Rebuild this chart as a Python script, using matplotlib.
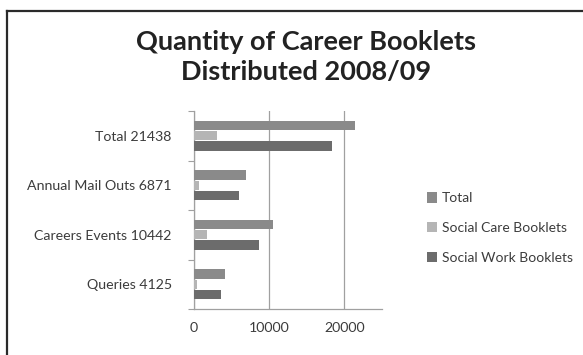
"""Quantity of career booklets distributed, grouped horizontal bars."""
import matplotlib

matplotlib.use("Agg")
import matplotlib.pyplot as plt
import numpy as np
from matplotlib.lines import Line2D

categories = ["Total 21438", "Annual Mail Outs 6871", "Careers Events 10442", "Queries 4125"]
total = [21438, 6871, 10442, 4125]
social_care = [3100, 700, 1750, 450]
social_work = [18300, 6050, 8600, 3650]
series_names = ["Total", "Social Care Booklets", "Social Work Booklets"]
x_ticks = [0, 10000, 20000]

COLORS = {
    "total": "#8a8a8a",
    "care": "#b5b5b5",
    "work": "#6c6c6c",
    "grid": "#a0a0a0",
    "text": "#3c3c3c",
    "frame": "#2a2a2a",
}

plt.rcParams.update({"font.family": ["Lato", "DejaVu Sans"], "font.size": 10.2})

fig = plt.figure(figsize=(5.83, 3.55), dpi=100)
ax = fig.add_axes([194 / 583, 46 / 355, 188 / 583, 198 / 355])

y = np.arange(len(categories))
h = 0.19
off = 0.21
ax.barh(y - off, total, height=h, color=COLORS["total"], label=series_names[0], zorder=3)
ax.barh(y, social_care, height=h, color=COLORS["care"], label=series_names[1], zorder=3)
ax.barh(y + off, social_work, height=h, color=COLORS["work"], label=series_names[2], zorder=3)

ax.set_xlim(0, 25000)
ax.set_ylim(len(categories) - 0.5, -0.5)
ax.set_xticks(x_ticks)
ax.set_xticklabels([str(v) for v in x_ticks])
ax.set_yticks(np.arange(len(categories) + 1) - 0.5)
ax.set_yticklabels([])
ax.set_yticks(y, minor=True)
ax.set_yticklabels(categories, minor=True)
ax.tick_params(axis="y", which="major", length=4, color=COLORS["grid"], direction="out")
ax.tick_params(axis="y", which="minor", length=0, pad=16, colors=COLORS["text"])
ax.tick_params(axis="x", length=0, pad=9, colors=COLORS["text"])

ax.grid(axis="x", color=COLORS["grid"], linewidth=0.9, zorder=0)
for side in ["top", "right"]:
    ax.spines[side].set_visible(False)
for side in ["left", "bottom"]:
    ax.spines[side].set_color(COLORS["grid"])
    ax.spines[side].set_linewidth(0.9)

fig.text(306 / 583, 1 - 57 / 355, "Quantity of Career Booklets\nDistributed 2008/09",
         ha="center", va="center", fontsize=19.5, fontweight="bold", color="#222222",
         linespacing=1.28)

fig.legend(loc="center left", bbox_to_anchor=(427 / 583, 1 - 228 / 355), frameon=False,
           borderpad=0, borderaxespad=0,
           handlelength=0.75, handleheight=0.75, handletextpad=0.3, labelspacing=1.27,
           labelcolor=COLORS["text"], fontsize=10)

# chart frame (left and top edges visible)
fig.add_artist(Line2D([7 / 583, 7 / 583], [0, 1 - 11 / 355], transform=fig.transFigure,
                      color=COLORS["frame"], linewidth=1.6))
fig.add_artist(Line2D([7 / 583, 1], [1 - 11 / 355, 1 - 11 / 355], transform=fig.transFigure,
                      color=COLORS["frame"], linewidth=1.6))

fig.savefig("out.png", dpi=100, facecolor="white")
